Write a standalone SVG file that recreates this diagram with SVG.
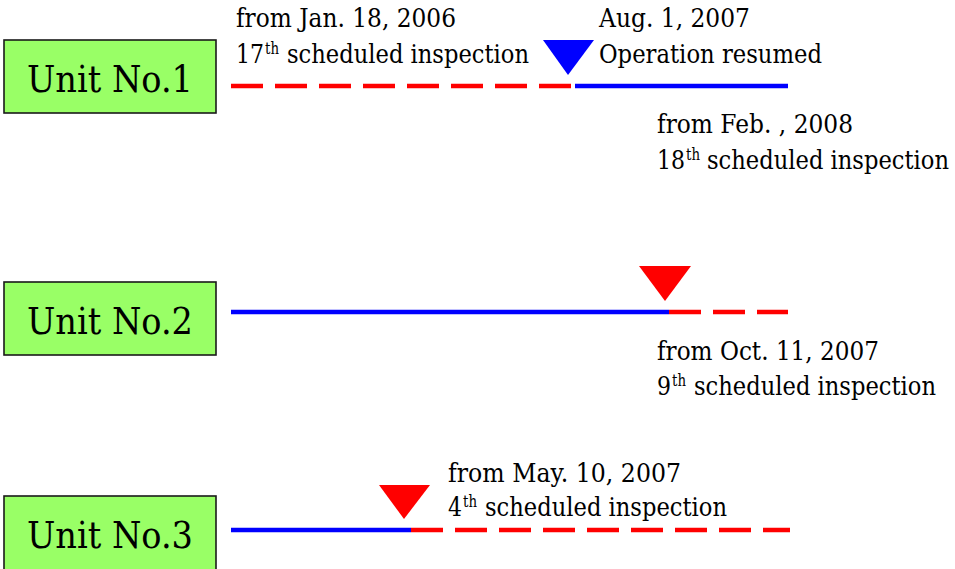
<svg xmlns="http://www.w3.org/2000/svg" width="955" height="569" viewBox="0 0 955 569">
<style>
.box{fill:#99FF66;stroke:#1a1a1a;stroke-width:1.6}
.unit{font-family:'DejaVu Serif','Liberation Serif',serif;font-size:37.5px;fill:#000;text-anchor:middle}
.lbl{font-family:'DejaVu Serif','Liberation Serif',serif;font-size:26.5px;fill:#000}
.sup{font-family:'DejaVu Serif','Liberation Serif',serif;font-size:16px;fill:#000}
.solid{stroke:#0000FF;stroke-width:4.3;fill:none}
.dash{stroke:#FF0000;stroke-width:4.3;fill:none;stroke-dasharray:32 12}
.tb{fill:#0000FF}
.tr{fill:#FF0000}
</style>
<rect width="955" height="569" fill="#fff"/>
<g id="connectors">
<line class="dash" x1="231" y1="86" x2="571" y2="86"/>
<line class="solid" x1="575" y1="86" x2="788" y2="86"/>
<line class="solid" x1="231" y1="312" x2="669" y2="312"/>
<line class="dash" x1="669" y1="312" x2="788" y2="312"/>
<line class="solid" x1="231" y1="530" x2="411" y2="530"/>
<line class="dash" x1="411" y1="530" x2="790" y2="530"/>
</g>
<g id="unit1">
<rect class="box" x="4" y="40" width="212" height="73"/>
<text class="unit" x="110" y="92" textLength="166" lengthAdjust="spacingAndGlyphs">Unit No.1</text>
</g>
<g id="unit2">
<rect class="box" x="4" y="282" width="212" height="73"/>
<text class="unit" x="110" y="334" textLength="166" lengthAdjust="spacingAndGlyphs">Unit No.2</text>
</g>
<g id="unit3">
<rect class="box" x="4" y="496" width="212" height="74"/>
<text class="unit" x="110" y="548" textLength="166" lengthAdjust="spacingAndGlyphs">Unit No.3</text>
</g>
<g id="marker1">
<polygon class="tb" points="543,40 594,40 568,75"/>
</g>
<g id="marker2">
<polygon class="tr" points="639,266 691,266 665,301"/>
</g>
<g id="marker3">
<polygon class="tr" points="379,485 430,485 404,519"/>
</g>
<g id="label-u1-insp17">
<text class="lbl" x="236" y="27" textLength="220" lengthAdjust="spacingAndGlyphs">from Jan. 18, 2006</text>
<text class="lbl" x="236" y="63" textLength="28" lengthAdjust="spacingAndGlyphs">17</text>
<text class="sup" x="265" y="54" textLength="14" lengthAdjust="spacingAndGlyphs">th</text>
<text class="lbl" x="287" y="63" textLength="242" lengthAdjust="spacingAndGlyphs">scheduled inspection</text>
</g>
<g id="label-u1-resume">
<text class="lbl" x="599" y="27" textLength="151" lengthAdjust="spacingAndGlyphs">Aug. 1, 2007</text>
<text class="lbl" x="599" y="63" textLength="223" lengthAdjust="spacingAndGlyphs">Operation resumed</text>
</g>
<g id="label-u1-insp18">
<text class="lbl" x="657" y="133" textLength="196" lengthAdjust="spacingAndGlyphs">from Feb. , 2008</text>
<text class="lbl" x="657" y="169" textLength="28" lengthAdjust="spacingAndGlyphs">18</text>
<text class="sup" x="686" y="160" textLength="14" lengthAdjust="spacingAndGlyphs">th</text>
<text class="lbl" x="707" y="169" textLength="242" lengthAdjust="spacingAndGlyphs">scheduled inspection</text>
</g>
<g id="label-u2-insp9">
<text class="lbl" x="657" y="360" textLength="222" lengthAdjust="spacingAndGlyphs">from Oct. 11, 2007</text>
<text class="lbl" x="657" y="395" textLength="14" lengthAdjust="spacingAndGlyphs">9</text>
<text class="sup" x="672" y="386" textLength="14" lengthAdjust="spacingAndGlyphs">th</text>
<text class="lbl" x="694" y="395" textLength="242" lengthAdjust="spacingAndGlyphs">scheduled inspection</text>
</g>
<g id="label-u3-insp4">
<text class="lbl" x="448" y="482" textLength="233" lengthAdjust="spacingAndGlyphs">from May. 10, 2007</text>
<text class="lbl" x="448" y="516" textLength="14" lengthAdjust="spacingAndGlyphs">4</text>
<text class="sup" x="463" y="507" textLength="14" lengthAdjust="spacingAndGlyphs">th</text>
<text class="lbl" x="485" y="516" textLength="242" lengthAdjust="spacingAndGlyphs">scheduled inspection</text>
</g>
</svg>
